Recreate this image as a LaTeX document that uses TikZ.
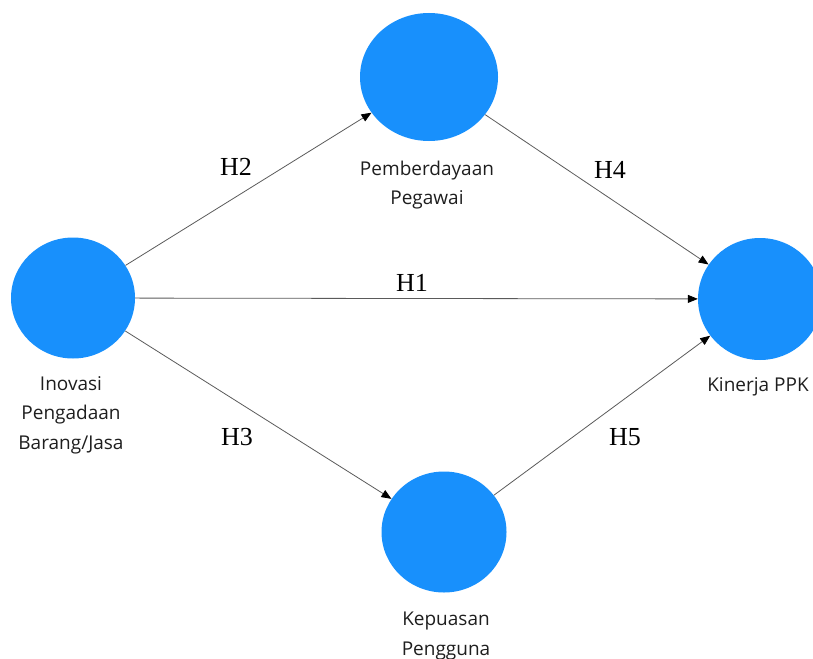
\documentclass[tikz,border=0pt]{standalone}
\usepackage{fontspec}
\setmainfont{Liberation Serif}
\newfontfamily\lblfont{Open Sans}
\usetikzlibrary{arrows.meta,shapes.geometric}
\definecolor{nodeblue}{RGB}{24,144,252}
\definecolor{linegray}{RGB}{90,90,90}
\definecolor{txtgray}{RGB}{30,30,30}
\begin{document}
\begin{tikzpicture}[x=1pt,y=-1pt,
  latent/.style={ellipse, fill=nodeblue, draw=none, inner sep=0pt},
  lbl/.style={font=\lblfont\fontsize{19}{29.5}\selectfont, text=txtgray, align=center},
  hyp/.style={font=\fontsize{26}{28}\selectfont, text=black},
  path/.style={draw=linegray, line width=0.8pt, -{Triangle[length=10pt,width=8pt,color=black]}}
]
\useasboundingbox (0,0) rectangle (813,658);
\node[latent, minimum width=124pt, minimum height=121pt] (inov) at (73,298) {};
\node[latent, minimum width=138pt, minimum height=128pt] (pemb) at (429,77) {};
\node[latent, minimum width=124pt, minimum height=122pt] (kin) at (760,299) {};
\node[latent, minimum width=125pt, minimum height=121pt] (kep) at (444,532) {};

\node[lbl] (linov) at (71,415) {Inovasi\\Pengadaan\\Barang/Jasa};
\node[lbl] (lpemb) at (427,185) {Pemberdayaan\\Pegawai};
\node[lbl] (lkin) at (758,387) {Kinerja PPK};
\node[lbl] (lkep) at (446,636) {Kepuasan\\Pengguna};

\draw[path] (inov) -- (kin);
\draw[path] (inov) -- (pemb);
\draw[path] (inov) -- (kep);
\draw[path] (pemb) -- (kin);
\draw[path] (kep) -- (kin);

\node[hyp] (h1) at (412,283) {H1};
\node[hyp] (h2) at (236,167) {H2};
\node[hyp] (h3) at (237,437) {H3};
\node[hyp] (h4) at (610,170) {H4};
\node[hyp] (h5) at (625,437) {H5};
\end{tikzpicture}
\end{document}
